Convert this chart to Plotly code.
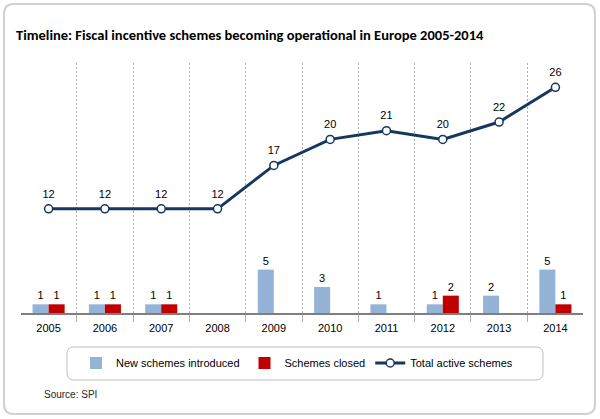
import plotly.graph_objects as go

years = ["2005", "2006", "2007", "2008", "2009", "2010", "2011", "2012", "2013", "2014"]
new_schemes = [1, 1, 1, 0, 5, 3, 1, 1, 2, 5]
closed_schemes = [1, 1, 1, 0, 0, 0, 0, 2, 0, 1]
total_active = [12, 12, 12, 12, 17, 20, 21, 20, 22, 26]

W, H = 600, 419
L, R, T, B = 21, 583, 63, 313


def xp(px):
    return (px - L) / (R - L)


def yp(py):
    return (B - py) / (B - T)


def rrect(x0, y0, x1, y1, r):
    # rounded rectangle path in paper coordinates from pixel coordinates
    pts = []
    pts.append(f"M{xp(x0 + r)},{yp(y0)}")
    pts.append(f"L{xp(x1 - r)},{yp(y0)}")
    pts.append(f"Q{xp(x1)},{yp(y0)} {xp(x1)},{yp(y0 + r)}")
    pts.append(f"L{xp(x1)},{yp(y1 - r)}")
    pts.append(f"Q{xp(x1)},{yp(y1)} {xp(x1 - r)},{yp(y1)}")
    pts.append(f"L{xp(x0 + r)},{yp(y1)}")
    pts.append(f"Q{xp(x0)},{yp(y1)} {xp(x0)},{yp(y1 - r)}")
    pts.append(f"L{xp(x0)},{yp(y0 + r)}")
    pts.append(f"Q{xp(x0)},{yp(y0)} {xp(x0 + r)},{yp(y0)}")
    pts.append("Z")
    return " ".join(pts)


BASE_FONT = "Liberation Sans, Arial, sans-serif"

fig = go.Figure()
fig.add_trace(go.Bar(
    x=years, y=new_schemes, name="New schemes introduced",
    marker=dict(color="#95B3D7", line=dict(width=0)),
    text=[str(v) if v else "" for v in new_schemes],
    textposition="outside", cliponaxis=False,
    textfont=dict(size=11, color="#000000", family=BASE_FONT),
))
fig.add_trace(go.Bar(
    x=years, y=closed_schemes, name="Schemes closed",
    marker=dict(color="#C00000", line=dict(width=0)),
    text=[str(v) if v else "" for v in closed_schemes],
    textposition="outside", cliponaxis=False,
    textfont=dict(size=11, color="#000000", family=BASE_FONT),
))
fig.add_trace(go.Scatter(
    x=years, y=total_active, name="Total active schemes",
    mode="lines+markers",
    line=dict(color="#17375E", width=3),
    marker=dict(symbol="circle", size=8, color="#FFFFFF",
                line=dict(color="#17375E", width=1.5)),
    cliponaxis=False,
))
fig.add_trace(go.Scatter(
    x=years, y=total_active, mode="markers+text", showlegend=False,
    marker=dict(size=12, opacity=0),
    text=[str(v) for v in total_active], textposition="top center",
    textfont=dict(size=11, color="#000000", family=BASE_FONT),
    cliponaxis=False, hoverinfo="skip",
))

fig.update_layout(
    width=W, height=H,
    margin=dict(l=L, r=W - R, t=T, b=H - B, pad=0),
    paper_bgcolor="#FFFFFF", plot_bgcolor="#FFFFFF",
    barmode="group", bargap=0.43, bargroupgap=0,
    font=dict(family=BASE_FONT, size=11, color="#000000"),
    showlegend=True,
    legend=dict(
        orientation="h", x=xp(76), xanchor="left", y=yp(363), yanchor="middle",
        bgcolor="rgba(0,0,0,0)", borderwidth=0,
        font=dict(size=11, family=BASE_FONT, color="#000000"),
        traceorder="normal",
    ),
    xaxis=dict(
        type="category", range=[-0.49, 9.49],
        tickson="boundaries", ticks="outside", ticklen=7, tickwidth=1,
        tickcolor="#B0B0B0", ticklabelstandoff=4,
        showgrid=True, gridcolor="#ABABAB", griddash="2px,2px", gridwidth=1,
        showline=True, linecolor="#7F7F7F", linewidth=2,
        tickfont=dict(size=11, family=BASE_FONT, color="#000000"),
        fixedrange=True,
    ),
    yaxis=dict(
        range=[0, 28.8], visible=False, showgrid=False, zeroline=False,
        fixedrange=True,
    ),
    shapes=[
        dict(type="path", xref="paper", yref="paper", path=rrect(4, 4, 595, 414, 10),
             line=dict(color="#D0D0D0", width=2), fillcolor="rgba(0,0,0,0)", layer="below"),
        dict(type="path", xref="paper", yref="paper", path=rrect(67, 347, 543, 380, 7),
             line=dict(color="#BFBFBF", width=1), fillcolor="rgba(0,0,0,0)", layer="below"),
    ],
    annotations=[
        dict(text="<b>Timeline: Fiscal incentive schemes becoming operational in Europe 2005-2014</b>",
             xref="paper", yref="paper", x=xp(14), y=yp(35), xanchor="left", yanchor="middle",
             showarrow=False,
             font=dict(family="Carlito, Liberation Sans Narrow, Lato, sans-serif", size=14.5, color="#000000")),
        dict(text="Source: SPI", xref="paper", yref="paper", x=xp(42), y=yp(394),
             xanchor="left", yanchor="middle", showarrow=False,
             font=dict(family=BASE_FONT, size=10, color="#262626")),
    ],
)

fig.write_html(
    "out.html",
    config={"displayModeBar": False},
    post_script="document.body.style.margin='0';document.body.style.overflow='hidden';",
)
